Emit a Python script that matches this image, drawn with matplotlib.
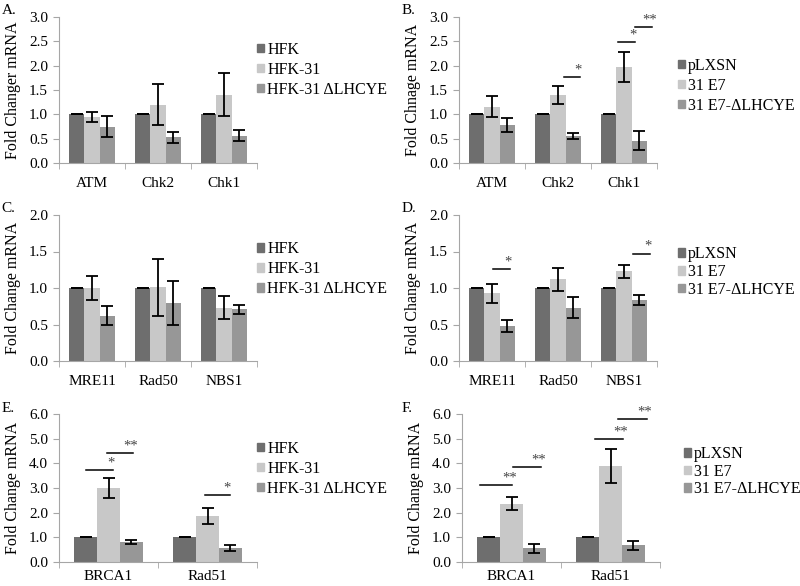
import numpy as np
import matplotlib
matplotlib.use("Agg")
import matplotlib.pyplot as plt
from matplotlib.patches import Patch

plt.rcParams["font.family"] = ["Liberation Serif", "DejaVu Serif"]
plt.rcParams["font.size"] = 11

dark = "#6e6e6e"
light = "#c8c8c8"
mid = "#979797"
axis_grey = "#a6a6a6"

# panel data: genes, series means, series errors
genes_ab = ["ATM", "Chk2", "Chk1"]
genes_cd = ["MRE11", "Rad50", "NBS1"]
genes_ef = ["BRCA1", "Rad51"]

hfk_labels = ["HFK", "HFK-31", "HFK-31 \u0394LHCYE"]
e7_labels = ["pLXSN", "31 E7", "31 E7-\u0394LHCYE"]

a_ctrl = [1.0, 1.0, 1.0]
a_wt = [0.94, 1.20, 1.40]
a_del = [0.75, 0.53, 0.56]
a_wt_err = [0.10, 0.42, 0.44]
a_del_err = [0.22, 0.11, 0.11]

b_ctrl = [1.0, 1.0, 1.0]
b_wt = [1.16, 1.40, 1.97]
b_del = [0.78, 0.56, 0.46]
b_wt_err = [0.21, 0.19, 0.31]
b_del_err = [0.14, 0.06, 0.19]

c_ctrl = [1.0, 1.0, 1.0]
c_wt = [1.00, 1.01, 0.73]
c_del = [0.62, 0.80, 0.71]
c_wt_err = [0.17, 0.39, 0.16]
c_del_err = [0.13, 0.30, 0.06]

d_ctrl = [1.0, 1.0, 1.0]
d_wt = [0.93, 1.12, 1.23]
d_del = [0.48, 0.73, 0.84]
d_wt_err = [0.13, 0.16, 0.09]
d_del_err = [0.08, 0.14, 0.07]

e_ctrl = [1.0, 1.0]
e_wt = [3.00, 1.88]
e_del = [0.82, 0.57]
e_wt_err = [0.40, 0.32]
e_del_err = [0.07, 0.13]

f_ctrl = [1.0, 1.0]
f_wt = [2.37, 3.90]
f_del = [0.55, 0.68]
f_wt_err = [0.27, 0.70]
f_del_err = [0.20, 0.19]

# significance marks: (x0, x1, y, text), x relative to group index
b_sig = [(1.09, 1.33, 1.76, "*"), (1.91, 2.17, 2.49, "*"), (2.17, 2.42, 2.79, "**")]
d_sig = [(0.02, 0.27, 1.26, "*"), (2.13, 2.39, 1.47, "*")]
e_sig = [(-0.23, 0.05, 3.73, "*"), (-0.02, 0.25, 4.40, "**"), (0.97, 1.23, 2.70, "*")]
f_sig = [(-0.32, 0.01, 3.12, "**"), (0.02, 0.30, 3.84, "**"),
         (0.84, 1.13, 4.99, "**"), (1.08, 1.37, 5.80, "**")]

panels = [
    ("A.", genes_ab, hfk_labels, a_ctrl, a_wt, a_del, a_wt_err, a_del_err, [], 3.0, 0.5, "Fold Changer mRNA"),
    ("B.", genes_ab, e7_labels, b_ctrl, b_wt, b_del, b_wt_err, b_del_err, b_sig, 3.0, 0.5, "Fold Chnage mRNA"),
    ("C.", genes_cd, hfk_labels, c_ctrl, c_wt, c_del, c_wt_err, c_del_err, [], 2.0, 0.5, "Fold Change mRNA"),
    ("D.", genes_cd, e7_labels, d_ctrl, d_wt, d_del, d_wt_err, d_del_err, d_sig, 2.0, 0.5, "Fold Change mRNA"),
    ("E.", genes_ef, hfk_labels, e_ctrl, e_wt, e_del, e_wt_err, e_del_err, e_sig, 6.0, 1.0, "Fold Change mRNA"),
    ("F.", genes_ef, e7_labels, f_ctrl, f_wt, f_del, f_wt_err, f_del_err, f_sig, 6.0, 1.0, "Fold Change mRNA"),
]

# axes rectangles in pixels (left, top, right, bottom)
rects = [
    (59, 17, 257, 163), (459, 17, 657, 163),
    (59, 215, 257, 361), (459, 215, 657, 361),
    (59, 414, 257, 562), (462, 414, 660, 562),
]
legend_y = [0.64, 0.53, 0.63, 0.61, 0.63, 0.61]
legend_x = [1.0, 1.105, 1.0, 1.105, 1.0, 1.12]
legend_fs = [11.5, 11.5, 11.5, 11.5, 11.5, 11.5]
legend_sp = [0.25, 0.25, 0.25, 0.1, 0.25, 0.1]
xpad = [10, 10, 10, 10, 6, 6]

W, H = 800, 586
fig = plt.figure(figsize=(8, 5.86), dpi=100)

for i, (letter, genes, labels, ctrl, wt, dele, wt_err, del_err, sig, ymax, step, ylab) in enumerate(panels):
    l, t, r, b = rects[i]
    ax = fig.add_axes([l / W, 1 - b / H, (r - l) / W, (b - t) / H])
    x = np.arange(len(genes))
    w = 0.23
    ekw = dict(ecolor="black", elinewidth=1.3, capthick=1.3)
    ax.bar(x - w, ctrl, w, color=dark, yerr=[0.0] * len(x), capsize=4, error_kw=ekw)
    ax.bar(x, wt, w, color=light, yerr=wt_err, capsize=4, error_kw=ekw)
    ax.bar(x + w, dele, w, color=mid, yerr=del_err, capsize=4, error_kw=ekw)

    for x0, x1, yy, s in sig:
        ax.plot([x0, x1], [yy, yy], color="black", lw=1.1, clip_on=False)
        ax.text(x1 - 0.03, yy + 0.005 * ymax, s, ha="center", va="bottom", fontsize=10.5, color="#444444")

    ax.set_xlim(-0.5, len(genes) - 0.5)
    ax.set_ylim(0, ymax)
    ax.set_yticks(np.arange(0, ymax + step / 2, step))
    ax.set_yticklabels([f"{v:.1f}" for v in np.arange(0, ymax + step / 2, step)])
    ax.set_xticks(x)
    ax.set_xticklabels(genes)
    ax.set_xticks(np.arange(-0.5, len(genes), 1.0), minor=True)
    ax.tick_params(axis="x", which="major", length=0, pad=xpad[i])
    ax.tick_params(axis="x", which="minor", length=4, color=axis_grey, direction="out")
    ax.tick_params(axis="y", length=4, color=axis_grey, direction="out", pad=4)
    for sp in ["top", "right"]:
        ax.spines[sp].set_visible(False)
    for sp in ["left", "bottom"]:
        ax.spines[sp].set_color(axis_grey)
    ax.set_ylabel(ylab, fontsize=11.5, labelpad=6)

    handles = [Patch(color=c) for c in (dark, light, mid)]
    ax.legend(handles, labels, loc="center left", bbox_to_anchor=(legend_x[i], legend_y[i]),
              frameon=False, handlelength=0.45, handleheight=0.45, handletextpad=0.2,
              labelspacing=legend_sp[i], borderaxespad=0, borderpad=0, fontsize=legend_fs[i])

    fig.text((0 if i % 2 == 0 else 400) / W + 0.002, 1 - (t - 6) / H, letter,
             fontsize=11, va="center", ha="left")

fig.savefig("out.png", dpi=100)
